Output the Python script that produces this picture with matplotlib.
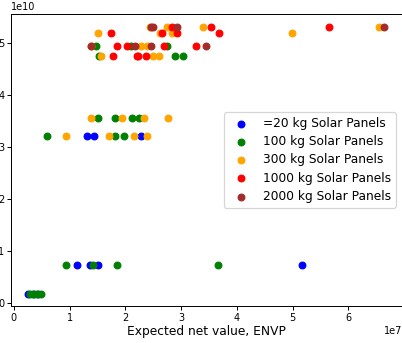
import matplotlib
matplotlib.use("Agg")
import matplotlib.pyplot as plt

# Data (x in 1e7, y in 1e10)
blue_x = [0.249, 0.344, 0.434, 1.133, 1.366, 1.504, 5.170, 1.317, 1.446, 2.274]
blue_y = [0.19, 0.19, 0.19, 0.73, 0.73, 0.73, 0.73, 3.22, 3.22, 3.22]

green_x = [0.290, 0.371, 0.416, 0.496, 0.939, 1.419, 1.846, 3.665,
           0.595, 1.814, 1.975, 1.518, 1.814, 2.124, 2.249,
           1.532, 2.889, 3.038, 1.470, 2.100, 2.751]
green_y = [0.19, 0.19, 0.19, 0.19, 0.73, 0.73, 0.73, 0.73,
           3.22, 3.22, 3.22, 3.56, 3.56, 3.56, 3.56,
           4.76, 4.76, 4.76, 4.95, 4.95, 4.95]

orange_x = [0.939, 1.710, 2.154, 2.382, 1.384, 1.935, 2.328, 2.758,
            1.557, 2.500, 2.611, 1.384, 2.280, 2.396,
            1.504, 2.620, 2.844, 4.986, 2.441, 2.742, 3.391, 6.545]
orange_y = [3.22, 3.22, 3.22, 3.22, 3.56, 3.56, 3.56, 3.56,
            4.76, 4.76, 4.76, 4.95, 4.95, 4.95,
            5.19, 5.19, 5.19, 5.19, 5.31, 5.31, 5.31, 5.31]

red_x = [1.787, 2.203, 2.235, 2.375, 1.844, 2.038, 2.692, 3.260,
         1.746, 2.661, 2.919, 3.677, 2.844, 3.534, 5.649]
red_y = [4.76, 4.76, 4.76, 4.76, 4.95, 4.95, 4.95, 4.95,
         5.19, 5.19, 5.19, 5.19, 5.31, 5.31, 5.31]

brown_x = [1.378, 2.172, 2.459, 3.444, 2.453, 2.500, 2.919, 6.634]
brown_y = [4.95, 4.95, 4.95, 4.95, 5.31, 5.31, 5.31, 5.31]

series = [
    (blue_x, blue_y, "blue", "=20 kg Solar Panels"),
    (green_x, green_y, "green", "100 kg Solar Panels"),
    (orange_x, orange_y, "orange", "300 kg Solar Panels"),
    (red_x, red_y, "red", "1000 kg Solar Panels"),
    (brown_x, brown_y, "brown", "2000 kg Solar Panels"),
]

DPI = 88
fig = plt.figure(figsize=(403 / DPI, 343 / DPI), dpi=DPI)
ax = fig.add_axes([11 / 403, (343 - 306) / 343, 391 / 403, 292 / 343])

for xs, ys, c, lab in series:
    ax.scatter([v * 1e7 for v in xs], [v * 1e10 for v in ys], s=30, color=c, label=lab)

ax.set_xlim(-0.05e7, 6.96e7)
ax.set_ylim(-0.05e10, 5.56e10)
ax.tick_params(labelsize=8, pad=2)
ax.xaxis.get_offset_text().set_fontsize(8)
ax.yaxis.get_offset_text().set_fontsize(8)
ax.set_xlabel("Expected net value, ENVP", labelpad=1.5)
ax.legend(loc="center right", labelspacing=0.42)

fig.savefig("out.png", dpi=DPI)
